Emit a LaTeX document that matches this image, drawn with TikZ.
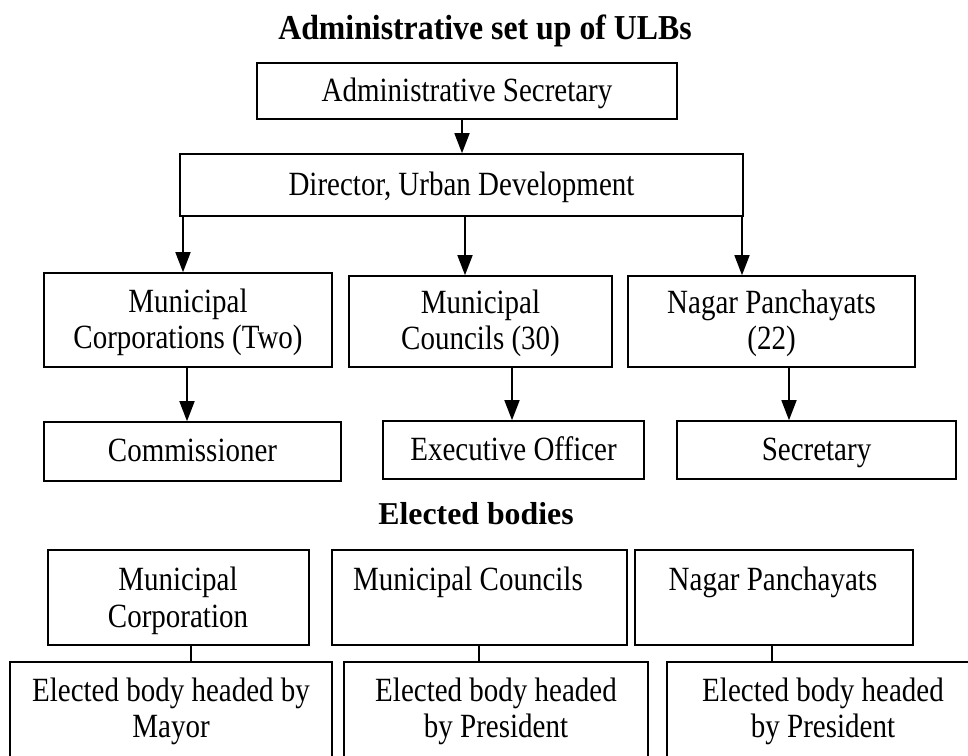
\documentclass[tikz,border=0pt]{standalone}
\usepackage{fontspec}
\usepackage{graphicx}
\setmainfont{Liberation Serif}
\usetikzlibrary{arrows.meta}
\newcommand{\tx}[1]{\raisebox{-3pt}[\height][\depth]{\scalebox{1}[1.17]{\begin{tabular}{@{}c@{}}#1\end{tabular}}}}
\begin{document}
\begin{tikzpicture}[x=1pt,y=-1pt,
  box/.style={draw=black, line width=1.6pt, inner sep=0pt, align=center, font=\fontsize{29}{30.8}\selectfont},
  txt/.style={inner sep=0pt, align=center, font=\fontsize{29}{30.8}\selectfont},
  ttl/.style={inner sep=0pt, anchor=base, font=\fontsize{31.8}{38}\selectfont\bfseries},
  arr/.style={line width=1.6pt, -{Triangle[length=20pt,width=15pt]}},
  ln/.style={line width=1.6pt}]
\fill[white] (0,0) rectangle (968,755);
\useasboundingbox (0,0) rectangle (968,755);
\begin{scope}
\clip (0,0) rectangle (968,755);
% titles
\node[ttl] (t1) at (485,39) {\scalebox{1}[1.1]{Administrative set up of ULBs}};
\node[ttl] (t2) at (476,524) {Elected bodies};
% administrative
\node[box, minimum width=420pt, minimum height=56pt] (admin) at (467,91) {\tx{Administrative Secretary}};
\node[box, minimum width=563pt, minimum height=62pt] (dir) at (461.5,185) {\tx{Director, Urban Development}};
\node[box, minimum width=288pt, minimum height=94pt] (mc) at (188,320) {\tx{Municipal\\Corporations (Two)}};
\node[box, minimum width=263pt, minimum height=91pt] (mcl) at (480.5,321.5) {\tx{Municipal\\Councils (30)}};
\node[box, minimum width=287pt, minimum height=91pt] (np) at (771.5,321.5) {\tx{Nagar Panchayats\\(22)}};
\node[box, minimum width=297pt, minimum height=59pt] (comm) at (192.5,451.5) {\tx{Commissioner}};
\node[box, minimum width=261pt, minimum height=58pt] (exec) at (513.5,450) {\tx{Executive Officer}};
\node[box, minimum width=279pt, minimum height=58pt] (sec) at (816.5,450) {\tx{Secretary}};
% arrow x positions
\coordinate (xa) at (462,0);
\coordinate (x1) at (183,0);
\coordinate (x2) at (465,0);
\coordinate (x3) at (742,0);
\coordinate (y1) at (187,0);
\coordinate (y2) at (512,0);
\coordinate (y3) at (789,0);
\draw[arr] (admin.south -| xa) -- (dir.north -| xa);
\draw[arr] (dir.south -| x1) -- (mc.north -| x1);
\draw[arr] (dir.south -| x2) -- (mcl.north -| x2);
\draw[arr] (dir.south -| x3) -- (np.north -| x3);
\draw[arr] (mc.south -| y1) -- (comm.north -| y1);
\draw[arr] (mcl.south -| y2) -- (exec.north -| y2);
\draw[arr] (np.south -| y3) -- (sec.north -| y3);
% elected
\node[box, minimum width=261pt, minimum height=95pt] (e1) at (178.5,597.5) {};
\node[box, minimum width=295pt, minimum height=95pt] (e2) at (479.5,597.5) {};
\node[box, minimum width=278pt, minimum height=95pt] (e3) at (774,597.5) {};
\node[txt] (e1t) at (178,598.8) {\tx{Municipal\\Corporation}};
\node[txt, anchor=west] (e2t) at (353,580) {\tx{Municipal Councils}};
\node[txt] (e3t) at (773,580) {\tx{Nagar Panchayats}};
\node[box, minimum width=322pt, minimum height=95pt] (b1) at (171,709.5) {\tx{Elected body headed by\\Mayor}};
\node[box, minimum width=304pt, minimum height=95pt] (b2) at (496,709.5) {\tx{Elected body headed\\by President}};
\node[box, minimum width=312pt, minimum height=95pt] (b3) at (823,709.5) {\tx{Elected body headed\\by President}};
\coordinate (z1) at (191,0);
\coordinate (z2) at (479,0);
\coordinate (z3) at (772,0);
\draw[ln] (e1.south -| z1) -- (b1.north -| z1);
\draw[ln] (e2.south -| z2) -- (b2.north -| z2);
\draw[ln] (e3.south -| z3) -- (b3.north -| z3);
\end{scope}
\end{tikzpicture}
\end{document}
